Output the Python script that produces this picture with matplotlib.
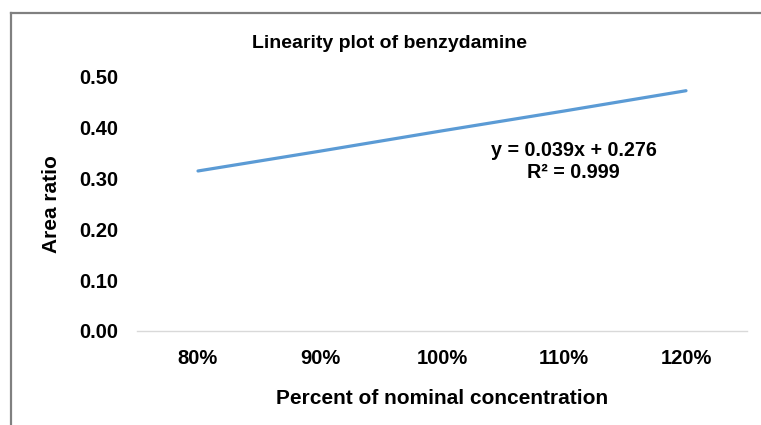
import matplotlib
matplotlib.use("Agg")
import matplotlib.pyplot as plt
from matplotlib.lines import Line2D

# Linearity data
categories = ["80%", "90%", "100%", "110%", "120%"]
area_ratio = [0.315, 0.354, 0.394, 0.433, 0.473]
y_ticks = [0.00, 0.10, 0.20, 0.30, 0.40, 0.50]

plt.rcParams["font.family"] = ["Liberation Sans", "DejaVu Sans"]

fig = plt.figure(figsize=(7.61, 4.25), dpi=100)
ax = fig.add_axes([137 / 761, 1 - 331 / 425, 610 / 761, 254 / 425])

x = list(range(len(categories)))
ax.plot(x, area_ratio, color="#5b9bd5", linewidth=2.3, solid_capstyle="round")

ax.set_xlim(-0.5, len(categories) - 0.5)
ax.set_ylim(0, 0.5)
ax.set_xticks(x)
ax.set_xticklabels(categories, fontsize=14.5, fontweight="bold")
ax.set_yticks(y_ticks)
ax.set_yticklabels(["{:.2f}".format(v) for v in y_ticks], fontsize=14.5, fontweight="bold")
ax.tick_params(axis="x", length=0, pad=13)
ax.tick_params(axis="y", length=0, pad=13.5)

for side in ["top", "right", "left"]:
    ax.spines[side].set_visible(False)
ax.spines["bottom"].set_color("#d9d9d9")
ax.spines["bottom"].set_linewidth(1.0)

ax.set_xlabel("Percent of nominal concentration", fontsize=15, fontweight="bold", labelpad=15)
ax.set_ylabel("Area ratio", fontsize=15, fontweight="bold", labelpad=13)

# Trendline equation
ax.text(3.08, 0.355, "y = 0.039x + 0.276", fontsize=14.2, fontweight="bold", ha="center", va="center")
ax.text(3.08, 0.312, "R\u00b2 = 0.999", fontsize=14.2, fontweight="bold", ha="center", va="center")

fig.text(390 / 761, 1 - 43 / 425, "Linearity plot of benzydamine", fontsize=14,
         fontweight="bold", ha="center", va="center")

# Chart border (only left and top visible in the crop)
fig.add_artist(Line2D([11 / 761, 11 / 761], [0, 1 - 13 / 425], transform=fig.transFigure,
                      color="#808080", linewidth=1.6))
fig.add_artist(Line2D([11 / 761, 1], [1 - 13 / 425, 1 - 13 / 425], transform=fig.transFigure,
                      color="#808080", linewidth=1.6))

fig.savefig("out.png", dpi=100)
